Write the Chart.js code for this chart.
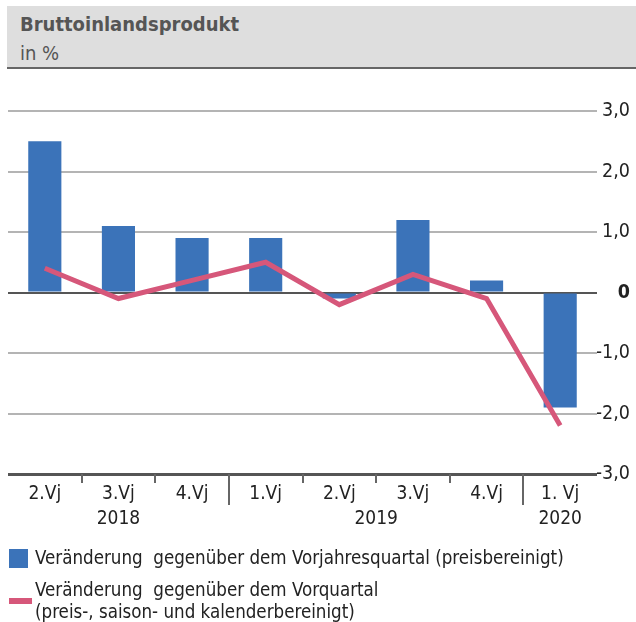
<!DOCTYPE html>
<html>
<head>
<meta charset="utf-8">
<script src="https://cdn.jsdelivr.net/npm/chart.js@4"></script>
<style>
  body { margin: 0; background: #fff; font-family: "Liberation Sans Narrow", "DejaVu Sans Condensed", sans-serif; }
  #wrap { position: relative; width: 636px; height: 622px; overflow: hidden; }
  #head { position: absolute; left: 7px; top: 6px; width: 629px; height: 61px; background: #dedede; border-bottom: 2px solid #666; }
  #title { position: absolute; left: 13px; top: 6px; font-size: 20px; font-weight: bold; color: #555; }
  #unit { position: absolute; left: 13px; top: 35px; font-size: 20px; color: #555; }
  canvas { position: absolute; left: 0; top: 0; }
  .leg { position: absolute; left: 35px; font-size: 18.6px; color: #222; white-space: pre; line-height: 22px; }
  .sw { position: absolute; }
</style>
</head>
<body>
<div id="wrap">
  <div id="head">
    <div id="title">Bruttoinlandsprodukt</div>
    <div id="unit">in %</div>
  </div>
  <canvas id="GdpCanvas" width="636" height="622"></canvas>
  <div class="sw" style="left:9px;top:549px;width:19px;height:19px;background:#3b73b9"></div>
  <div class="leg" style="top:547px">Veränderung  gegenüber dem Vorjahresquartal (preisbereinigt)</div>
  <div class="sw" style="left:9px;top:598px;width:23px;height:6px;background:#d6577a"></div>
  <div class="leg" style="top:579px">Veränderung  gegenüber dem Vorquartal
(preis-, saison- und kalenderbereinigt)</div>
</div>
<script>
var quarters = ['2.Vj', '3.Vj', '4.Vj', '1.Vj', '2.Vj', '3.Vj', '4.Vj', '1. Vj'];
var years = [
    { label: '2018', from: 0, to: 2 },
    { label: '2019', from: 3, to: 6 },
    { label: '2020', from: 7, to: 7 }
];
var vorjahresquartal = [2.5, 1.1, 0.9, 0.9, -0.1, 1.2, 0.2, -1.9];
var vorquartal = [0.4, -0.1, 0.2, 0.5, -0.2, 0.3, -0.1, -2.2];
var yTicks = [-3, -2, -1, 0, 1, 2, 3];

var FONT = '"Liberation Sans Narrow", "DejaVu Sans Condensed", sans-serif';

// draws quarter separators and the year row under the x axis
var yearRow = {
    id: 'yearRow',
    afterDraw: function (chart) {
        var ctx = chart.ctx;
        var xs = chart.scales.x;
        var top = chart.chartArea.bottom;
        ctx.save();
        ctx.strokeStyle = '#666';
        ctx.lineWidth = 2;
        for (var i = 1; i < quarters.length; i++) {
            var x = Math.round((xs.getPixelForValue(i - 1) + xs.getPixelForValue(i)) / 2);
            var big = (i === 3 || i === 7);
            ctx.beginPath();
            ctx.moveTo(x, top);
            ctx.lineTo(x, top + (big ? 31 : 9));
            ctx.stroke();
        }
        ctx.fillStyle = '#222';
        ctx.font = '19px ' + FONT;
        ctx.textAlign = 'center';
        ctx.textBaseline = 'middle';
        years.forEach(function (y) {
            var x = (xs.getPixelForValue(y.from) + xs.getPixelForValue(y.to)) / 2;
            ctx.fillText(y.label, x, top + 45);
        });
        ctx.restore();
    }
};

window.onload = function () {
    var GdpCtx = document.getElementById('GdpCanvas').getContext('2d');

    window.Gdp = new Chart(GdpCtx, {
        data: {
            labels: quarters,
            datasets: [{
                type: 'line',
                data: vorquartal,
                borderColor: '#d6577a',
                borderWidth: 5,
                pointRadius: 0,
                tension: 0,
                order: 0
            }, {
                type: 'bar',
                data: vorjahresquartal,
                backgroundColor: '#3b73b9',
                barPercentage: 0.45,
                categoryPercentage: 1,
                order: 1
            }]
        },
        options: {
            responsive: false,
            animation: false,
            layout: { padding: { top: 111, left: 8, right: 6, bottom: 0 } },
            plugins: {
                legend: { display: false },
                tooltip: { enabled: false }
            },
            scales: {
                x: {
                    grid: { display: false, drawTicks: false },
                    border: { display: false },
                    ticks: {
                        color: '#222',
                        font: { size: 19, family: FONT },
                        padding: 9,
                        maxRotation: 0
                    },
                    afterFit: function (s) { s.height = 148; }
                },
                y: {
                    position: 'right',
                    min: -3,
                    max: 3,
                    afterBuildTicks: function (s) {
                        s.ticks = yTicks.map(function (v) { return { value: v }; });
                    },
                    afterFit: function (s) { s.width = 33; },
                    border: { display: false },
                    grid: {
                        drawTicks: false,
                        color: function (c) { return (c.tick.value === 0 || c.tick.value === -3) ? '#555' : '#b4b4b4'; },
                        lineWidth: function (c) { return c.tick.value === -3 ? 3 : 2; }
                    },
                    ticks: {
                        color: '#222',
                        crossAlign: 'far',
                        padding: 4,
                        font: function (c) {
                            return { size: 19.5, family: FONT, weight: (c.tick && c.tick.value === 0) ? 'bold' : 'normal' };
                        },
                        callback: function (v) {
                            return v === 0 ? '0' : v.toFixed(1).replace('.', ',');
                        }
                    }
                }
            }
        },
        plugins: [yearRow]
    });
};
</script>
</body>
</html>
